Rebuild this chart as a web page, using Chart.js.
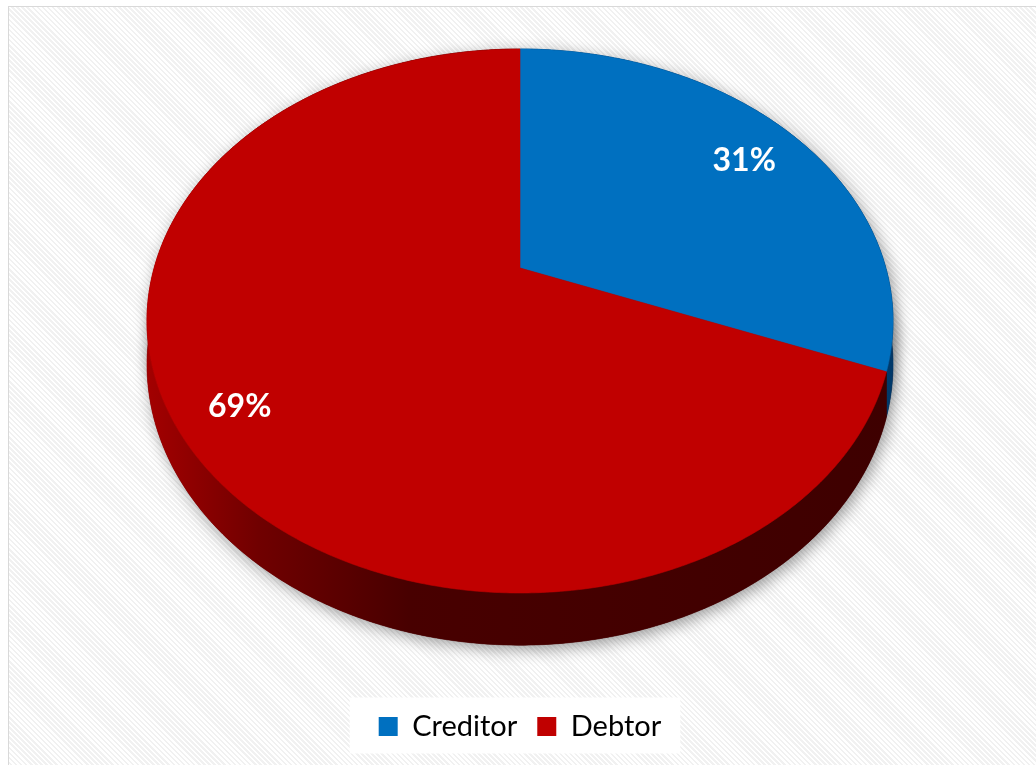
<!DOCTYPE html>
<html>
<head>
<meta charset="utf-8">
<script src="https://cdn.jsdelivr.net/npm/chart.js@4.4.1/dist/chart.umd.min.js"></script>
<style>
  html, body { margin: 0; padding: 0; background: #ffffff; }
  #wrap { position: relative; width: 1036px; height: 765px; overflow: hidden; }
  #frame {
    position: absolute; left: 8px; top: 6px; width: 1060px; height: 790px;
    border: 1.5px solid #d9d9d9;
    background: repeating-linear-gradient(45deg, #ffffff 0px, #ffffff 1.8px, #f1f1f1 1.8px, #f1f1f1 3.6px);
  }
  #chart { position: absolute; left: 0; top: 0; }
</style>
</head>
<body>
<div id="wrap">
  <div id="frame"></div>
  <canvas id="chart" width="1036" height="765"></canvas>
</div>
<script>
// Balance split between creditor and debtor positions (percent)
const categories = ['Creditor', 'Debtor'];
const shares = [31, 69];
const sliceColors = ['#0070C0', '#C00000'];

// Perspective settings for the tilted disc
const PERSPECTIVE = 0.195;   // how much nearer rim points grow
const FACE_RATIO = 0.7292;   // top face height relative to its width
const WALL = 42;             // wall height before perspective
const LABEL_RADIUS = 0.83;   // where the percentage labels sit

function makeProjector(chart) {
  const a = chart.chartArea;
  const k = PERSPECTIVE;
  const cx = (a.left + a.right) / 2;
  const half = (a.right - a.left) / 2;
  const sx = half * Math.sqrt(1 - k * k);
  const faceH = 2 * half * FACE_RATIO;
  const sy = faceH * (1 - k * k) / 2;
  const cy = a.top + sy / (1 + k);
  return function (angle, r, drop) {
    const u = r * Math.cos(angle), v = r * Math.sin(angle);
    const d = 1 - k * v;
    return [cx + sx * u / d, cy + sy * v / d + (drop || 0) / d];
  };
}

function rimPoints(proj, start, end, drop) {
  const n = Math.max(2, Math.ceil((end - start) / 0.008));
  const pts = [];
  for (let i = 0; i <= n; i++) {
    const ang = start + (end - start) * i / n;
    pts.push(proj(ang, 1, drop));
  }
  return pts;
}

function wallGradient(ctx, area, base) {
  const g = ctx.createLinearGradient(area.left, 0, area.right, 0);
  if (base === 'blue') {
    g.addColorStop(0, '#0a4f8a');
    g.addColorStop(1, '#00396a');
  } else {
    g.addColorStop(0, '#a30000');
    g.addColorStop(0.15, '#700000');
    g.addColorStop(0.35, '#480000');
    g.addColorStop(1, '#3e0000');
  }
  return g;
}

const pie3d = {
  id: 'pie3d',
  beforeDraw(chart) {
    // white panel behind the legend
    const boxes = chart.legend && chart.legend.legendHitBoxes;
    if (!boxes || !boxes.length) return;
    const ctx = chart.ctx;
    let l = Infinity, r = -Infinity, t = Infinity, b = -Infinity;
    boxes.forEach(h => {
      l = Math.min(l, h.left); r = Math.max(r, h.left + h.width);
      t = Math.min(t, h.top); b = Math.max(b, h.top + h.height);
    });
    const mid = (t + b) / 2;
    ctx.save();
    ctx.fillStyle = '#ffffff';
    ctx.fillRect(l - 29, mid - 29, (r - l) + 48, 56);
    ctx.restore();
  },
  beforeDatasetsDraw(chart) {
    const ctx = chart.ctx;
    const meta = chart.getDatasetMeta(0);
    const arcs = meta.data;
    const proj = makeProjector(chart);
    const area = chart.chartArea;
    const total = shares.reduce((s, v) => s + v, 0);

    // soft drop shadow under the whole disc
    ctx.save();
    ctx.shadowColor = 'rgba(0,0,0,0.4)';
    ctx.shadowBlur = 16;
    ctx.shadowOffsetX = 3;
    ctx.shadowOffsetY = 4;
    ctx.fillStyle = '#400000';
    ctx.beginPath();
    rimPoints(proj, 0, Math.PI * 2, WALL).forEach((p, i) => i ? ctx.lineTo(p[0], p[1]) : ctx.moveTo(p[0], p[1]));
    ctx.closePath();
    ctx.fill();
    ctx.beginPath();
    rimPoints(proj, 0, Math.PI * 2, 0).forEach((p, i) => i ? ctx.lineTo(p[0], p[1]) : ctx.moveTo(p[0], p[1]));
    ctx.closePath();
    ctx.fill();
    ctx.restore();

    // outer walls
    arcs.forEach((arc, i) => {
      const {startAngle, endAngle} = arc.getProps(['startAngle', 'endAngle'], true);
      const top = rimPoints(proj, startAngle, endAngle, 0);
      const bottom = rimPoints(proj, startAngle, endAngle, WALL).reverse();
      ctx.save();
      ctx.beginPath();
      top.concat(bottom).forEach((p, j) => j ? ctx.lineTo(p[0], p[1]) : ctx.moveTo(p[0], p[1]));
      ctx.closePath();
      const g = wallGradient(ctx, area, i === 0 ? 'blue' : 'red');
      ctx.fillStyle = g;
      ctx.strokeStyle = g;
      ctx.lineWidth = 0.6;
      ctx.fill();
      ctx.stroke();
      ctx.restore();
    });

    // top faces
    arcs.forEach((arc) => {
      const {startAngle, endAngle} = arc.getProps(['startAngle', 'endAngle'], true);
      const centre = proj(0, 0, 0);
      ctx.save();
      ctx.beginPath();
      ctx.moveTo(centre[0], centre[1]);
      rimPoints(proj, startAngle, endAngle, 0).forEach(p => ctx.lineTo(p[0], p[1]));
      ctx.closePath();
      ctx.fillStyle = arc.options.backgroundColor;
      ctx.strokeStyle = arc.options.backgroundColor;
      ctx.lineWidth = 0.6;
      ctx.fill();
      ctx.stroke();
      ctx.restore();
    });

    // percentage labels
    ctx.save();
    ctx.fillStyle = '#ffffff';
    ctx.font = 'bold 32px Lato, "Open Sans", sans-serif';
    ctx.textAlign = 'center';
    ctx.textBaseline = 'middle';
    arcs.forEach((arc, i) => {
      const {startAngle, endAngle} = arc.getProps(['startAngle', 'endAngle'], true);
      const mid = (startAngle + endAngle) / 2;
      const p = proj(mid, LABEL_RADIUS, 0);
      const dx = i === 0 ? -6 : -4;
      ctx.fillText(Math.round(shares[i] / total * 100) + '%', p[0] + dx, p[1] + (i === 0 ? 5 : 4));
    });
    ctx.restore();
    return false;
  }
};

function build() {
  new Chart(document.getElementById('chart'), {
    type: 'pie',
    data: {
      labels: categories,
      datasets: [{
        data: shares,
        backgroundColor: sliceColors,
        borderWidth: 0
      }]
    },
    options: {
      responsive: false,
      animation: false,
      devicePixelRatio: 1,
      events: [],
      layout: { padding: { left: 147, right: 143, top: 49, bottom: 14 } },
      plugins: {
        tooltip: { enabled: false },
        legend: {
          position: 'bottom',
          labels: {
            color: '#000000',
            boxWidth: 19,
            boxHeight: 19,
            padding: 20,
            font: { family: 'Lato', size: 29 }
          }
        }
      }
    },
    plugins: [pie3d]
  });
}

Promise.all([
  document.fonts.load('29px Lato'),
  document.fonts.load('bold 32px Lato')
]).then(build, build);
</script>
</body>
</html>
